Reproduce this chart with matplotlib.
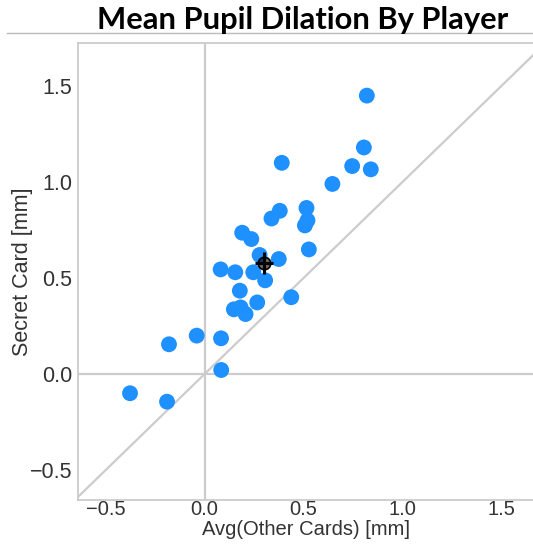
import matplotlib
matplotlib.use("Agg")
import matplotlib.pyplot as plt
import numpy as np

other_cards = [0.82, 0.805, 0.39, 0.746, 0.84, 0.646, 0.515, 0.38, 0.52, 0.338,
               0.507, 0.19, 0.236, 0.527, 0.278, 0.375, 0.081, 0.155, 0.246, 0.306,
               0.178, 0.438, 0.266, 0.148, 0.182, 0.207, -0.04, 0.083, -0.18, 0.084,
               -0.377, -0.19]
secret_card = [1.45, 1.18, 1.10, 1.083, 1.066, 0.99, 0.865, 0.85, 0.80, 0.81,
               0.774, 0.736, 0.703, 0.649, 0.62, 0.599, 0.545, 0.53, 0.53, 0.488,
               0.434, 0.40, 0.373, 0.337, 0.347, 0.3125, 0.20, 0.186, 0.155, 0.021,
               -0.10, -0.144]
mean_x, mean_y = 0.30, 0.58
err_x, err_y = 0.046, 0.058

xticks = [-0.5, 0.0, 0.5, 1.0, 1.5]
yticks = [-0.5, 0.0, 0.5, 1.0, 1.5]

W, H = 533, 546
fig = plt.figure(figsize=(W / 100, H / 100), dpi=100)
ax = fig.add_axes([78 / W, (H - 500) / H, (W - 78) / W, (500 - 43) / H])

xlim = (-0.64, 1.66)
ylim = (-0.656, 1.724)
ax.set_xlim(*xlim)
ax.set_ylim(*ylim)

gray = "#cccccc"
ax.axvline(0, color=gray, lw=1.6, zorder=1)
ax.axhline(0, color=gray, lw=1.6, zorder=1)
ax.plot([-1, 2], [-1, 2], color=gray, lw=1.6, zorder=1)

ax.scatter(other_cards, secret_card, s=130, color="#1E90FF", edgecolors="none", zorder=3)
ax.errorbar([mean_x], [mean_y], xerr=[err_x], yerr=[err_y], fmt="o", ms=9,
            mfc=(0, 0, 0, 0.6), mec="black", mew=1.2, ecolor="black",
            elinewidth=2.2, capsize=0, zorder=4)

ax.set_xticks(xticks)
ax.set_yticks(yticks)
ax.set_xticklabels([f"{t:.1f}".replace("-", "\u2212") for t in xticks])
ax.set_yticklabels([f"{t:.1f}".replace("-", "\u2212") for t in yticks])
ax.tick_params(length=0, labelsize=15.5, labelcolor="#333333")
ax.tick_params(axis="x", pad=0, labelsize=14.5)
ax.tick_params(axis="y", pad=4)
for lab in ax.get_xticklabels() + ax.get_yticklabels():
    lab.set_fontfamily("Liberation Sans")

for side in ["left", "bottom", "top"]:
    ax.spines[side].set_color(gray)
    ax.spines[side].set_linewidth(1.3)
ax.spines["right"].set_visible(False)

ax.set_xlabel("Avg(Other Cards) [mm]", fontsize=14.5, color="#333333",
              family="Liberation Sans", labelpad=0.5)
ax.set_ylabel("Secret Card [mm]", fontsize=15.5, color="#333333",
              family="Liberation Sans", labelpad=-2)

fig.text(303 / W, (H - 29) / H, "Mean Pupil Dilation By Player", ha="center",
         va="baseline", fontsize=22.2, fontweight="bold", family="Lato", color="black")
fig.add_artist(plt.Line2D([7 / W, 1], [(H - 33) / H, (H - 33) / H],
                          color="#bbbbbb", lw=1.0))

fig.savefig("out.png", dpi=100)
